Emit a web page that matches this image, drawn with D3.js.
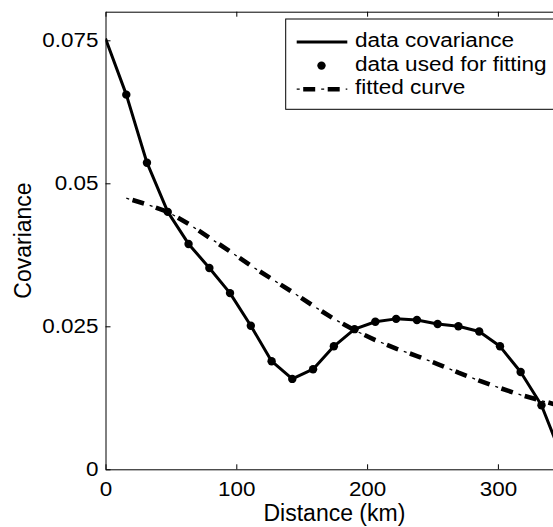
<!DOCTYPE html>
<html>
<head>
<meta charset="utf-8">
<script src="https://cdn.jsdelivr.net/npm/d3@7"></script>
<style>
  html, body { margin: 0; padding: 0; background: #fff; overflow: hidden; }
  svg { display: block; font-family: "Liberation Sans", Arial, Helvetica, sans-serif; }
</style>
</head>
<body>
<svg id="chart" width="553" height="527"></svg>
<script>
// Empirical covariance by separation distance (km)
const distances = [0, 15.9, 31.7, 47.6, 63.5, 79.4, 95.2, 111.1, 127.0, 142.8, 158.7,
                   174.6, 190.4, 206.3, 222.2, 238.1, 253.9, 269.8, 285.7, 301.6,
                   317.4, 333.3, 349.2];
const covariance = [0.0753, 0.0655, 0.0536, 0.0450, 0.0394, 0.0352, 0.0308, 0.0251,
                    0.0189, 0.0158, 0.0175, 0.0215, 0.0245, 0.0258, 0.0263, 0.0261,
                    0.0254, 0.0250, 0.0241, 0.0215, 0.0170, 0.0112, 0.0020];

// Fitted covariance model evaluated at the lag distances
const fitDistances = [15.9, 31.7, 47.6, 63.5, 79.4, 95.2, 111.1, 127.0, 142.8, 158.7,
                      174.6, 190.4, 206.3, 222.2, 238.1, 253.9, 269.8, 285.7, 301.6,
                      317.4, 333.3, 349.2];
const fitted = [0.0474, 0.0463, 0.0450, 0.0429, 0.0405, 0.0381, 0.0356, 0.0333, 0.0310,
                0.0286, 0.0263, 0.0243, 0.0226, 0.0211, 0.0198, 0.0184, 0.0169, 0.0155,
                0.0142, 0.0130, 0.0120, 0.0110];

const xTicks = [0, 100, 200, 300];
const yTicks = [0, 0.025, 0.05, 0.075];
const yTickLabels = ["0", "0.025", "0.05", "0.075"];
const legendLabels = ["data covariance", "data used for fitting", "fitted curve"];
const xLabel = "Distance (km)";
const yLabel = "Covariance";

// ---- layout ----
const plot = { left: 105.5, right: 563.3, top: 11.7, bottom: 469.3 };
const tickFont = 19.5, labelFont = 23, legendFont = 19.6, stretch = 1.15;

const svg = d3.select("#chart");

const x = d3.scaleLinear().domain([0, 350]).range([plot.left, plot.right]);
const y = d3.scaleLinear().domain([0, 0.08]).range([plot.bottom, plot.top]);

svg.append("defs").append("clipPath").attr("id", "plotClip")
  .append("rect")
  .attr("x", plot.left).attr("y", plot.top)
  .attr("width", plot.right - plot.left).attr("height", plot.bottom - plot.top);

// ---- axes (box with inward ticks) ----
function styleAxis(g) {
  g.select(".domain").attr("stroke", "#000").attr("stroke-width", 1);
  g.selectAll(".tick line").attr("stroke", "#000").attr("stroke-width", 1);
  g.selectAll(".tick text")
    .attr("fill", "#000")
    .style("font-size", tickFont + "px")
    .attr("transform", `scale(${stretch},1)`);
}

svg.append("g")
  .attr("transform", `translate(0,${plot.bottom})`)
  .call(d3.axisBottom(x).tickValues(xTicks).tickFormat(d3.format("d"))
          .tickSizeInner(-5).tickSizeOuter(0).tickPadding(12.5))
  .call(styleAxis);

svg.append("g")
  .attr("transform", `translate(0,${plot.top})`)
  .call(d3.axisTop(x).tickValues(xTicks).tickFormat("")
          .tickSizeInner(-5).tickSizeOuter(0))
  .call(styleAxis);

svg.append("g")
  .attr("transform", `translate(${plot.left},0)`)
  .call(d3.axisLeft(y).tickValues(yTicks).tickFormat((d, i) => yTickLabels[i])
          .tickSizeInner(-5).tickSizeOuter(0).tickPadding(6.2))
  .call(styleAxis);

svg.append("g")
  .attr("transform", `translate(${plot.right},0)`)
  .call(d3.axisRight(y).tickValues(yTicks).tickFormat("")
          .tickSizeInner(-5).tickSizeOuter(0))
  .call(styleAxis);

svg.selectAll(".domain").attr("fill", "none");

// ---- axis titles ----
svg.append("text")
  .attr("transform", `translate(${(plot.left + plot.right) / 2},521)`)
  .attr("text-anchor", "middle")
  .style("font-size", labelFont + "px")
  .text(xLabel);

svg.append("text")
  .attr("transform", `translate(31,${(plot.top + plot.bottom) / 2}) rotate(-90)`)
  .attr("text-anchor", "middle")
  .style("font-size", labelFont + "px")
  .text(yLabel);

// ---- data ----
const layer = svg.append("g").attr("clip-path", "url(#plotClip)");

const covLine = d3.line().x((d, i) => x(distances[i])).y(d => y(d));
const fitLine = d3.line().x((d, i) => x(fitDistances[i])).y(d => y(d));

// fitted curve: thick dashes alternating with thin ticks
function dashDot(sel) {
  sel.append("path")
    .attr("fill", "none").attr("stroke", "#000")
    .attr("stroke-width", 4.6)
    .attr("stroke-dasharray", "12 12.5")
    .attr("stroke-dashoffset", 18);
  sel.append("path")
    .attr("fill", "none").attr("stroke", "#000")
    .attr("stroke-width", 1.3)
    .attr("stroke-dasharray", "3 21.5");
}

const fitG = layer.append("g");
dashDot(fitG);
fitG.selectAll("path").attr("d", fitLine(fitted));

layer.append("path")
  .attr("d", covLine(covariance))
  .attr("fill", "none")
  .attr("stroke", "#000")
  .attr("stroke-width", 3)
  .attr("stroke-linejoin", "round");

layer.selectAll("circle.pt")
  .data(covariance.slice(1))
  .join("circle")
  .attr("class", "pt")
  .attr("cx", (d, i) => x(distances[i + 1]))
  .attr("cy", d => y(d))
  .attr("r", 4.2)
  .attr("fill", "#000");

// ---- legend ----
const leg = svg.append("g");
leg.append("rect")
  .attr("x", 285.7).attr("y", 19)
  .attr("width", 290).attr("height", 90.3)
  .attr("fill", "#fff").attr("stroke", "#000").attr("stroke-width", 1);

const rowY = [42, 65.6, 89.2];
const sx0 = 296.7, sx1 = 347.3, tx = 355;

leg.append("line")
  .attr("x1", sx0).attr("x2", sx1).attr("y1", rowY[0]).attr("y2", rowY[0])
  .attr("stroke", "#000").attr("stroke-width", 3);

leg.append("circle")
  .attr("cx", (sx0 + sx1) / 2 - 0.5).attr("cy", rowY[1]).attr("r", 4.2).attr("fill", "#000");

const legFit = leg.append("g");
dashDot(legFit);
legFit.selectAll("path").attr("d", `M${sx0},${rowY[2]}H${sx1}`);

leg.selectAll("text.lbl")
  .data(legendLabels)
  .join("text")
  .attr("class", "lbl")
  .attr("transform", (d, i) => `translate(${tx},${rowY[i] + 5}) scale(${stretch},1)`)
  .style("font-size", legendFont + "px")
  .text(d => d);
</script>
</body>
</html>
